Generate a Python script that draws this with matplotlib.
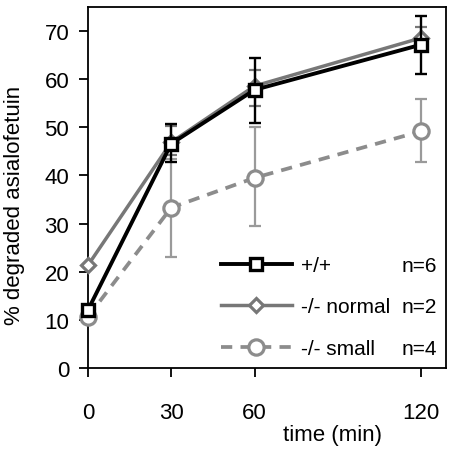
import numpy as np
import matplotlib.pyplot as plt

plt.rcParams['font.family'] = ['Liberation Sans', 'DejaVu Sans']

# dane
czas = [0, 30, 60, 120]
wt = [12.0, 46.6, 57.8, 67.2]
wt_dol = [0, 3.9, 6.8, 6.0]
wt_gora = [0, 4.0, 6.7, 5.9]
normal = [21.3, 46.9, 58.6, 68.6]
normal_dol = [0, 2.6, 4.2, 2.6]
normal_gora = [0, 3.3, 3.3, 2.2]
small = [10.6, 33.3, 39.5, 49.2]
small_dol = [0, 10.2, 10.1, 6.5]
small_gora = [0, 10.2, 10.5, 6.6]
etykiety = ['+/+', '-/- normal', '-/- small']
liczby = ['n=6', 'n=2', 'n=4']

fig = plt.figure(figsize=(4.53, 4.52), dpi=100)
ax = fig.add_axes([0.194, 0.184, 0.791, 0.798])

szary = '#777777'
szary2 = '#8c8c8c'

# -/- small
ax.errorbar(czas, small, yerr=[small_dol, small_gora], fmt='none', ecolor='#9a9a9a',
            elinewidth=1.6, capsize=4, capthick=1.6, zorder=2, clip_on=False)
l3, = ax.plot(czas, small, color=szary2, lw=2.7, ls=(0, (3, 2.2)), marker='o', ms=11,
              mfc='white', mec=szary2, mew=2.3, zorder=3, clip_on=False)
# -/- normal
ax.errorbar(czas, normal, yerr=[normal_dol, normal_gora], fmt='none', ecolor=szary,
            elinewidth=1.6, capsize=4, capthick=1.6, zorder=4, clip_on=False)
l2, = ax.plot(czas, normal, color=szary, lw=2.5, marker='D', ms=7.5,
              mfc='white', mec=szary, mew=2.3, zorder=5, clip_on=False)
# +/+
ax.errorbar(czas, wt, yerr=[wt_dol, wt_gora], fmt='none', ecolor='black',
            elinewidth=1.7, capsize=4, capthick=1.7, zorder=6, clip_on=False)
l1, = ax.plot(czas, wt, color='black', lw=2.8, marker='s', ms=9,
              mfc='white', mec='black', mew=2.4, zorder=7, clip_on=False)

ax.set_xlim(0, 129)
ax.set_ylim(0, 75)
ax.set_xticks(czas)
ax.set_yticks(np.arange(0, 71, 10))
for s in ax.spines.values():
    s.set_linewidth(1.3)
ax.tick_params(axis='both', direction='out', length=6.5, width=1.3, labelsize=16)
ax.tick_params(axis='x', pad=18)
ax.tick_params(axis='y', pad=7)

ax.set_xlabel('time (min)', fontsize=16)
ax.xaxis.set_label_coords(0.684, -0.155)
ax.set_ylabel('% degraded asialofetuin', fontsize=16)
ax.yaxis.set_label_coords(-0.176, 0.454)

leg = ax.legend([l1, l2, l3], etykiety, loc='lower left', bbox_to_anchor=(0.33, -0.013),
                frameon=False, fontsize=15, handlelength=3.4, handletextpad=0.45,
                labelspacing=1.08, borderaxespad=0.3)

fig.canvas.draw()
for t, n in zip(leg.get_texts(), liczby):
    bb = t.get_window_extent()
    y = (bb.y0 + bb.y1) / 2
    xa, ya = ax.transAxes.inverted().transform((0, y))
    ax.text(0.975, ya, n, transform=ax.transAxes, ha='right', va='center', fontsize=15)

fig.savefig('out.png', dpi=100)
